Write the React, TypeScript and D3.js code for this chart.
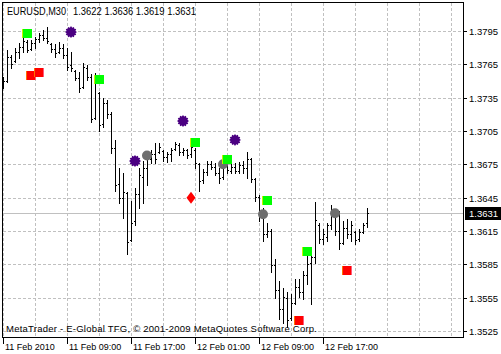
import React from "react";
import * as d3 from "d3";

const W = 501;
const H = 354;

const symbolTitle = "EURUSD,M30";
const lastQuote = ["1.3622", "1.3636", "1.3619", "1.3631"];
const currentPrice = 1.3631;
const watermark = "MetaTrader - E-Global TFG, \u00A9 2001-2009 MetaQuotes Software Corp.";

const timeLabels = ["11 Feb 2010", "11 Feb 09:00", "11 Feb 17:00", "12 Feb 01:00", "12 Feb 09:00", "12 Feb 17:00"];
const timeLabelBars = [0, 16, 32, 48, 64, 80];
const priceTicks = [1.3525, 1.3555, 1.3585, 1.3615, 1.3645, 1.3675, 1.3705, 1.3735, 1.3765, 1.3795];

const opens = [
  1.3746, 1.3750, 1.3772, 1.3768, 1.3776, 1.3781, 1.3785, 1.3779, 1.3784, 1.3788,
  1.3791, 1.3789, 1.3783, 1.3779, 1.3776, 1.3780, 1.3773, 1.3764, 1.3759, 1.3753,
  1.3745, 1.3762, 1.3754, 1.3717, 1.3739, 1.3711, 1.3730, 1.3720, 1.3690, 1.3657,
  1.3645, 1.3649, 1.3607, 1.3624, 1.3648, 1.3664, 1.3672, 1.3680, 1.3684, 1.3686,
  1.3687, 1.3682, 1.3684, 1.3689, 1.3692, 1.3686, 1.3688, 1.3684, 1.3688, 1.3675,
  1.3661, 1.3668, 1.3675, 1.3673, 1.3667, 1.3664, 1.3676, 1.3669, 1.3673, 1.3669,
  1.3674, 1.3672, 1.3680, 1.3662, 1.3646, 1.3630, 1.3612, 1.3615, 1.3584, 1.3562,
  1.3545, 1.3555, 1.3537, 1.3550, 1.3565, 1.3560, 1.3575, 1.3586, 1.3592, 1.3620,
  1.3608, 1.3610, 1.3620, 1.3632, 1.3615, 1.3604, 1.3618, 1.3612, 1.3614, 1.3608,
  1.3614, 1.3622,
];
const highs = [
  1.3754, 1.3778, 1.3773, 1.3780, 1.3784, 1.3790, 1.3787, 1.3787, 1.3790, 1.3793,
  1.3796, 1.3799, 1.3784, 1.3783, 1.3785, 1.3783, 1.3780, 1.3776, 1.3760, 1.3758,
  1.3766, 1.3764, 1.3756, 1.3757, 1.3740, 1.3735, 1.3733, 1.3722, 1.3697, 1.3672,
  1.3667, 1.3650, 1.3642, 1.3654, 1.3672, 1.3678, 1.3686, 1.3688, 1.3694, 1.3694,
  1.3688, 1.3686, 1.3690, 1.3695, 1.3694, 1.3690, 1.3689, 1.3696, 1.3690, 1.3676,
  1.3671, 1.3678, 1.3678, 1.3676, 1.3672, 1.3678, 1.3677, 1.3676, 1.3676, 1.3677,
  1.3678, 1.3686, 1.3681, 1.3663, 1.3647, 1.3636, 1.3622, 1.3617, 1.3590, 1.3570,
  1.3564, 1.3560, 1.3558, 1.3572, 1.3572, 1.3579, 1.3593, 1.3599, 1.3641, 1.3622,
  1.3617, 1.3622, 1.3638, 1.3635, 1.3633, 1.3624, 1.3626, 1.3624, 1.3615, 1.3617,
  1.3622, 1.3636,
];
const lows = [
  1.3744, 1.3749, 1.3762, 1.3767, 1.3771, 1.3776, 1.3776, 1.3778, 1.3780, 1.3785,
  1.3787, 1.3784, 1.3776, 1.3772, 1.3775, 1.3771, 1.3760, 1.3759, 1.3751, 1.3740,
  1.3744, 1.3751, 1.3713, 1.3716, 1.3705, 1.3709, 1.3717, 1.3685, 1.3651, 1.3640,
  1.3627, 1.3594, 1.3606, 1.3620, 1.3636, 1.3640, 1.3656, 1.3676, 1.3676, 1.3685,
  1.3678, 1.3677, 1.3678, 1.3688, 1.3683, 1.3683, 1.3681, 1.3682, 1.3672, 1.3651,
  1.3658, 1.3665, 1.3671, 1.3665, 1.3658, 1.3662, 1.3667, 1.3667, 1.3667, 1.3667,
  1.3667, 1.3663, 1.3659, 1.3642, 1.3624, 1.3606, 1.3610, 1.3578, 1.3555, 1.3536,
  1.3532, 1.3529, 1.3535, 1.3549, 1.3556, 1.3554, 1.3567, 1.3549, 1.3586, 1.3604,
  1.3603, 1.3606, 1.3617, 1.3611, 1.3599, 1.3603, 1.3609, 1.3606, 1.3603, 1.3606,
  1.3613, 1.3619,
];
const closes = [
  1.3750, 1.3772, 1.3765, 1.3776, 1.3781, 1.3786, 1.3778, 1.3784, 1.3788, 1.3791,
  1.3789, 1.3786, 1.3779, 1.3775, 1.3780, 1.3773, 1.3763, 1.3762, 1.3753, 1.3744,
  1.3763, 1.3754, 1.3716, 1.3748, 1.3710, 1.3730, 1.3720, 1.3690, 1.3656, 1.3645,
  1.3650, 1.3605, 1.3622, 1.3648, 1.3665, 1.3672, 1.3680, 1.3684, 1.3680, 1.3691,
  1.3682, 1.3684, 1.3688, 1.3693, 1.3686, 1.3688, 1.3683, 1.3691, 1.3676, 1.3660,
  1.3668, 1.3675, 1.3673, 1.3667, 1.3663, 1.3676, 1.3670, 1.3673, 1.3669, 1.3674,
  1.3672, 1.3680, 1.3662, 1.3646, 1.3630, 1.3612, 1.3615, 1.3584, 1.3562, 1.3545,
  1.3556, 1.3535, 1.3550, 1.3565, 1.3560, 1.3575, 1.3585, 1.3592, 1.3625, 1.3608,
  1.3612, 1.3620, 1.3632, 1.3615, 1.3604, 1.3618, 1.3612, 1.3620, 1.3607, 1.3614,
  1.3620, 1.3631,
];

// signal markers: bar index + price
const greenBars = [6, 24, 48, 56, 66, 76];
const greenPrices = [1.3793, 1.3752, 1.3695, 1.3680, 1.3643, 1.3597];
const redBars = [7, 9, 74, 86];
const redPrices = [1.3755, 1.3758, 1.3535, 1.3580];
const diamondBars = [47];
const diamondPrices = [1.3645];
const starBars = [17, 33, 45, 58];
const starPrices = [1.3794, 1.3678, 1.3714, 1.3697];
const circleBars = [36, 55, 65, 83];
const circlePrices = [1.3683, 1.3675, 1.3630, 1.3631];

const FONT = "'Liberation Sans', Arial, sans-serif";

const plotL = 2, plotR = 463, plotT = 2, plotB = 337;

const x = d3.scaleLinear().domain([0, 1]).range([3, 7]);
const y = d3.scaleLinear().domain([1.3525, 1.3795]).range([331, 31]);

const px = (i: number) => Math.round(x(i));
const py = (p: number) => Math.round(y(p));

function starPath(cx: number, cy: number, ro: number, ri: number, n: number) {
  const pts: [number, number][] = [];
  for (let k = 0; k < n * 2; k++) {
    const r = k % 2 === 0 ? ro : ri;
    const a = (Math.PI * k) / n - Math.PI / 2;
    pts.push([cx + r * Math.cos(a), cy + r * Math.sin(a)]);
  }
  return d3.line()(pts) + "Z";
}

export default function App() {
  const gridBars = d3.range(0, 200, 8).filter((i) => x(i) < plotR);
  const bars = d3.range(opens.length);
  const cpY = py(currentPrice);
  return (
    <svg width={W} height={H} style={{ position: "absolute", left: 0, top: 0, background: "#fff" }}>
      <rect x={0} y={0} width={W} height={H} fill="#fff" />
      {/* grid */}
      <g stroke="#c0c0c0" strokeWidth={1} strokeDasharray="3,2" shapeRendering="crispEdges">
        {priceTicks.map((p) => (
          <line key={"h" + p} x1={plotL + 1} x2={plotR} y1={py(p) + 0.5} y2={py(p) + 0.5} />
        ))}
        {gridBars.map((i) => (
          <line key={"v" + i} x1={px(i) + 0.5} x2={px(i) + 0.5} y1={plotT + 1} y2={plotB} />
        ))}
      </g>
      <line x1={plotL + 1} x2={plotR} y1={cpY + 0.5} y2={cpY + 0.5} stroke="#c0c0c0" shapeRendering="crispEdges" />
      {/* bars */}
      <g fill="#000" shapeRendering="crispEdges">
        {bars.map((i) => {
          const bx = px(i);
          const yh = py(highs[i]);
          const yl = py(lows[i]);
          return (
            <g key={i}>
              <rect x={bx} y={yh} width={1} height={yl - yh + 1} />
              <rect x={bx - 1} y={py(opens[i])} width={1} height={1} />
              <rect x={bx + 1} y={py(closes[i])} width={1} height={1} />
            </g>
          );
        })}
      </g>
      {/* markers */}
      {circleBars.map((b, k) => (
        <circle key={"c" + k} cx={x(b)} cy={y(circlePrices[k])} r={5} fill="#6e6e6e" />
      ))}
      {starBars.map((b, k) => (
        <path key={"s" + k} d={starPath(x(b), y(starPrices[k]), 6, 4.6, 12)} fill="#4b0082" />
      ))}
      {greenBars.map((b, k) => {
        const cx = px(b), cy = py(greenPrices[k]);
        return (
          <g key={"g" + k} shapeRendering="crispEdges">
            <rect x={cx - 5} y={cy - 4} width={10} height={9} fill="#00ff00" />
            <rect x={cx - 5} y={cy - 4} width={1} height={9} fill="#c8f000" />
          </g>
        );
      })}
      {redBars.map((b, k) => {
        const cx = px(b), cy = py(redPrices[k]);
        return (
          <g key={"r" + k} shapeRendering="crispEdges">
            <rect x={cx - 5} y={cy - 4} width={10} height={9} fill="#ff0000" />
            <rect x={cx - 5} y={cy - 4} width={1} height={9} fill="#ff7000" />
            <rect x={cx + 4} y={cy - 4} width={1} height={9} fill="#ff5a7a" />
          </g>
        );
      })}
      {diamondBars.map((b, k) => {
        const cx = x(b), cy = y(diamondPrices[k]);
        return (
          <path key={"d" + k} d={`M${cx},${cy - 6}L${cx + 4.5},${cy}L${cx},${cy + 6}L${cx - 4.5},${cy}Z`} fill="#ff0000" />
        );
      })}
      {/* frame */}
      <rect x={plotL + 0.5} y={plotT + 0.5} width={plotR - plotL} height={plotB - plotT} fill="none" stroke="#000" shapeRendering="crispEdges" />
      {/* title */}
      <text x={7} y={15} fontFamily={FONT} fontSize={10} fill="#000" textLength={59} lengthAdjust="spacingAndGlyphs">{symbolTitle}</text>
      <text x={73} y={15} fontFamily={FONT} fontSize={10} fill="#000" textLength={123} lengthAdjust="spacingAndGlyphs">{lastQuote.join(" ")}</text>
      {/* watermark */}
      <text x={6} y={332} fontFamily={FONT} fontSize={9.5} fill="#000" textLength={311} lengthAdjust="spacing">{watermark}</text>
      {/* price axis */}
      <g shapeRendering="crispEdges">
        {priceTicks.map((p) => (
          <g key={"pt" + p}>
            <line x1={plotR + 1} x2={plotR + 4} y1={py(p) + 0.5} y2={py(p) + 0.5} stroke="#000" />
            <text x={469} y={py(p) + 4} fontFamily={FONT} fontSize={9.5} fill="#000">{d3.format(".4f")(p)}</text>
          </g>
        ))}
      </g>
      <rect x={465} y={cpY - 6} width={36} height={13} fill="#000" />
      <text x={469} y={cpY + 4} fontFamily={FONT} fontSize={9.5} fill="#fff">{d3.format(".4f")(currentPrice)}</text>
      {/* time axis */}
      {timeLabelBars.map((b, k) => (
        <g key={"t" + k}>
          <line x1={px(b) + 0.5} x2={px(b) + 0.5} y1={plotB + 1} y2={plotB + 7} stroke="#000" shapeRendering="crispEdges" />
          <text x={px(b) + 2} y={350} fontFamily={FONT} fontSize={9} fill="#000">{timeLabels[k]}</text>
        </g>
      ))}
    </svg>
  );
}
